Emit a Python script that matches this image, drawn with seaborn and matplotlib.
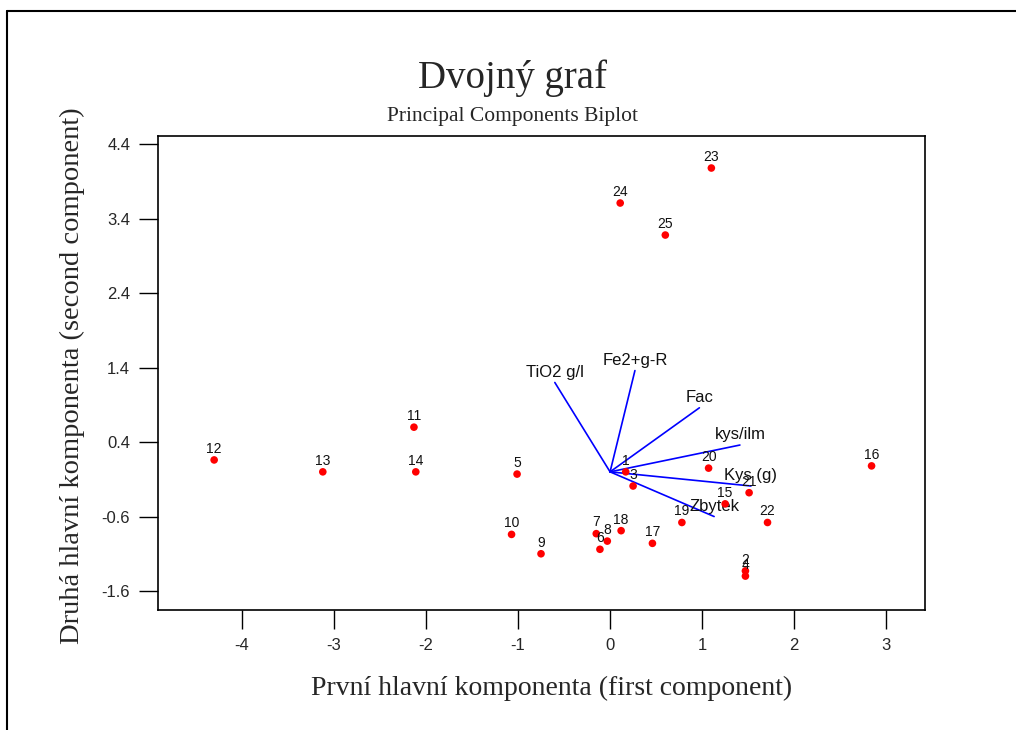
import numpy as np
import pandas as pd
import seaborn as sns
import matplotlib.pyplot as plt
from matplotlib.lines import Line2D

# scores (first, second component) for the 25 observations
obs_ids = [str(i) for i in range(1, 26)]
pc1 = [0.17, 1.47, 0.25, 1.47, -1.01, -0.11, -0.15, -0.03, -0.75, -1.07,
       -2.13, -4.30, -3.12, -2.11, 1.25, 2.84, 0.46, 0.12, 0.78, 1.07,
       1.51, 1.71, 1.10, 0.11, 0.60]
pc2 = [0.00, -1.33, -0.19, -1.40, -0.03, -1.04, -0.83, -0.93, -1.10, -0.84,
       0.60, 0.16, 0.00, 0.00, -0.43, 0.08, -0.96, -0.79, -0.68, 0.05,
       -0.28, -0.68, 4.08, 3.61, 3.18]

# loadings (scaled) for the variables
var_names = ["TiO2 g/l", "Fe2+g-R", "Fac", "kys/ilm", "Kys (g)", "Zbytek"]
load1 = [-0.60, 0.27, 0.97, 1.41, 1.53, 1.13]
load2 = [1.20, 1.36, 0.86, 0.36, -0.19, -0.60]

scores = pd.DataFrame({"id": obs_ids, "pc1": pc1, "pc2": pc2})

sns.set_style("ticks")
plt.rcParams["font.family"] = ["Liberation Sans", "DejaVu Sans"]
plt.rcParams["axes.unicode_minus"] = False
serif = ["Liberation Serif", "DejaVu Serif"]

fig = plt.figure(figsize=(10.16, 7.3), dpi=100)
ax = fig.add_axes([0.1555, 0.1644, 0.7549, 0.6493])

# loading vectors
for name, lx, ly in zip(var_names, load1, load2):
    ax.plot([0, lx], [0, ly], color="blue", lw=1.2, zorder=2)
    ax.annotate(name, (lx, ly), xytext=(0, 2), textcoords="offset points",
                ha="center", va="bottom", fontsize=12, color="#111111")

# observation scores
sns.scatterplot(data=scores, x="pc1", y="pc2", color="red", s=30,
                edgecolor="none", ax=ax, zorder=3, legend=False)
for i, x, y in zip(obs_ids, pc1, pc2):
    ax.annotate(i, (x, y), xytext=(0, 3), textcoords="offset points",
                ha="center", va="bottom", fontsize=10, color="#111111")

ax.set_xlim(-4.91, 3.42)
ax.set_ylim(-1.855, 4.51)
ax.set_xticks([-4, -3, -2, -1, 0, 1, 2, 3])
ax.set_yticks([4.4, 3.4, 2.4, 1.4, 0.4, -0.6, -1.6])
ax.set_yticklabels(["4.4", "3.4", "2.4", "1.4", "0.4", "-0.6", "-1.6"])
ax.tick_params(direction="out", length=14, width=1, labelsize=12,
               color="black", pad=6)
for sp in ax.spines.values():
    sp.set_linewidth(1.2)
    sp.set_color("black")
ax.set_xlabel("")
ax.set_ylabel("")

fig.text(0.504, 0.893, "Dvojný graf", ha="center", va="center",
         fontsize=28, family=serif)
fig.text(0.504, 0.841, "Principal Components Biplot", ha="center",
         va="center", fontsize=15.5, family=serif)
fig.text(0.543, 0.0575, "První hlavní komponenta (first component)",
         ha="center", va="center", fontsize=20, family=serif)
fig.text(0.071, 0.486, "Druhá hlavní komponenta (second component)",
         ha="center", va="center", rotation=90, fontsize=20.5, family=serif)

# outer frame lines (top and left)
fig.add_artist(Line2D([0.0069, 0.0069], [0.0, 0.985], color="black", lw=1.5))
fig.add_artist(Line2D([0.0069, 1.0], [0.985, 0.985], color="black", lw=1.5))

fig.savefig("out.png", dpi=100, facecolor="white")
